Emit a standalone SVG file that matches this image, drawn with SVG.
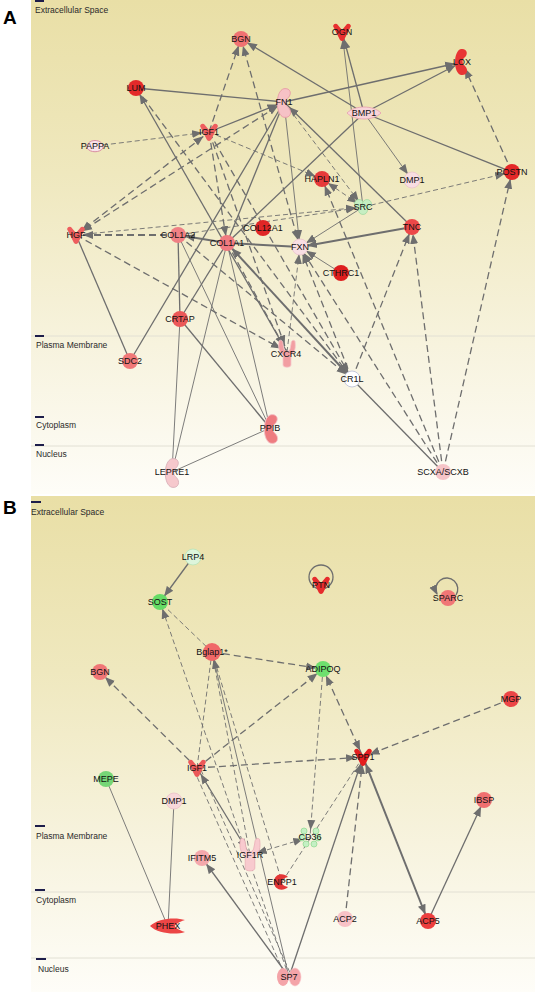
<svg xmlns="http://www.w3.org/2000/svg" xmlns:xlink="http://www.w3.org/1999/xlink" width="535" height="992" viewBox="0 0 535 992">
<style>
.e{stroke:#6e6e6e;stroke-width:1.3;fill:none}
.t{stroke-width:0.9}
.k{stroke-width:2}
.d{stroke-dasharray:7 4}
.dt{stroke-dasharray:5 3}
text{font-family:"Liberation Sans",Arial,sans-serif;font-size:9px;fill:#111;text-anchor:middle}
.cl{text-anchor:start;fill:#2a2a2a;font-size:8.5px}
.pl{font-size:19px;font-weight:bold;text-anchor:start;fill:#000}
.cm{stroke:#e2e0d4;stroke-width:1}
.dash{stroke:#1d1d4a;stroke-width:2}
</style>
<defs>
<linearGradient id="bgA" x1="0" y1="0" x2="0" y2="1">
<stop offset="0" stop-color="#E9DFA6"/>
<stop offset="0.35" stop-color="#EFE8BE"/>
<stop offset="0.7" stop-color="#F7F3DE"/>
<stop offset="1" stop-color="#FEFDF8"/>
</linearGradient>
<marker id="ar" viewBox="0 0 20 10" refX="17" refY="5" markerWidth="20" markerHeight="10" markerUnits="userSpaceOnUse" orient="auto-start-reverse"><path d="M0,1 L10,5 L0,9 z" fill="#6e6e6e"/></marker>
<marker id="ar0" viewBox="0 0 20 10" refX="9" refY="5" markerWidth="20" markerHeight="10" markerUnits="userSpaceOnUse" orient="auto"><path d="M0,1 L10,5 L0,9 z" fill="#6e6e6e"/></marker>
<path id="gf" d="M-9,-6 Q-8,-9 -5,-8 L0,-2 L5,-8 Q8,-9 9,-6 L2,8 Q0,10 -2,8 Z"/>
<path id="enz" d="M-1,-13 C5,-14 7,-8 2,-4 C0,-2 0,2 3,4 C7,8 5,14 -1,13 C-9,11 -9,-11 -1,-13 Z"/>
<path id="cres" d="M6,-5 C1,-10 -8,-8 -8,0 C-8,8 1,10 6,5 C1,4 0,2 0,0 C0,-2 1,-4 6,-5 Z"/>
<path id="pep" d="M-18,0 C-10,-8 8,-9 17,-6 C10,-4 7,-1 7,0 C7,1 10,4 17,6 C8,9 -10,8 -18,0 Z"/>
<path id="lens" d="M-17,0 C-9,-8 9,-8 17,0 C9,8 -9,8 -17,0 Z"/>
<path id="rec" d="M-8,-13 C-6,-15 -4,-13 -4,-10 L-3,-5 C-2,-2 2,-2 3,-5 L4,-10 C4,-13 6,-15 8,-13 C9,-6 8,-2 4,1 L4,11 C4,14 -4,14 -4,11 L-4,1 C-8,-2 -9,-6 -8,-13 Z"/>
</defs>

<!-- backgrounds -->
<rect x="0" y="0" width="535" height="992" fill="#ffffff"/>
<rect x="31" y="0" width="504" height="494" fill="url(#bgA)"/>
<rect x="31" y="496" width="504" height="496" fill="url(#bgA)"/>

<!-- compartments -->
<g id="compartments">
<line class="cm" x1="31" y1="336" x2="535" y2="336"/>
<line class="cm" x1="31" y1="446" x2="535" y2="446"/>
<line class="cm" x1="31" y1="892" x2="535" y2="892"/>
<line class="cm" x1="31" y1="958" x2="535" y2="958"/>
<line class="dash" x1="35" y1="1" x2="44" y2="1"/>
<line class="dash" x1="35" y1="336" x2="44" y2="336"/>
<line class="dash" x1="35" y1="417" x2="44" y2="417"/>
<line class="dash" x1="35" y1="445" x2="44" y2="445"/>
<line class="dash" x1="31" y1="502" x2="41" y2="502"/>
<line class="dash" x1="35" y1="826" x2="45" y2="826"/>
<line class="dash" x1="35" y1="890" x2="45" y2="890"/>
<line class="dash" x1="36" y1="959" x2="46" y2="959"/>
<text class="cl" x="35" y="13">Extracellular Space</text>
<text class="cl" x="36" y="348">Plasma Membrane</text>
<text class="cl" x="36" y="428">Cytoplasm</text>
<text class="cl" x="36" y="457">Nucleus</text>
<text class="cl" x="31" y="515">Extracellular Space</text>
<text class="cl" x="36" y="839">Plasma Membrane</text>
<text class="cl" x="36" y="903">Cytoplasm</text>
<text class="cl" x="38" y="972">Nucleus</text>
<text class="pl" x="3" y="24">A</text>
<text class="pl" x="3" y="514">B</text>
</g>

<!-- connectors -->
<g id="connectors">
<!-- panel A solid -->
<line class="e" x1="364" y1="113" x2="241" y2="39" marker-end="url(#ar)"/>
<line class="e" x1="364" y1="113" x2="342" y2="32" marker-end="url(#ar)"/>
<line class="e t" x1="363" y1="207" x2="342" y2="32" marker-end="url(#ar)"/>
<line class="e" x1="364" y1="113" x2="462" y2="62" marker-end="url(#ar)"/>
<line class="e" x1="284" y1="102" x2="462" y2="62" marker-end="url(#ar)"/>
<line class="e" x1="364" y1="113" x2="512" y2="172"/>
<line class="e t" x1="364" y1="113" x2="412" y2="180" marker-end="url(#ar)"/>
<line class="e" x1="364" y1="113" x2="227" y2="243"/>
<line class="e" x1="136" y1="88" x2="284" y2="102"/>
<line class="e" x1="209" y1="132" x2="284" y2="102" marker-end="url(#ar)"/>
<line class="e" x1="412" y1="227" x2="284" y2="102" marker-end="url(#ar)"/>
<line class="e t" x1="284" y1="102" x2="300" y2="247" marker-end="url(#ar)"/>
<line class="e k" x1="412" y1="227" x2="300" y2="247" marker-end="url(#ar)"/>
<line class="e t" x1="363" y1="207" x2="300" y2="247" marker-end="url(#ar)"/>
<line class="e k" x1="300" y1="247" x2="227" y2="243"/>
<line class="e k" x1="227" y1="243" x2="178" y2="235" marker-end="url(#ar)"/>
<line class="e t" x1="341" y1="273" x2="300" y2="247" marker-end="url(#ar)"/>
<line class="e" x1="76" y1="235" x2="130" y2="361"/>
<line class="e" x1="130" y1="361" x2="284" y2="102"/>
<line class="e" x1="180" y1="319" x2="227" y2="243"/>
<line class="e" x1="180" y1="319" x2="178" y2="235"/>
<line class="e t" x1="180" y1="319" x2="172" y2="472"/>
<line class="e" x1="180" y1="319" x2="270" y2="428"/>
<line class="e t" x1="227" y1="243" x2="172" y2="472"/>
<line class="e t" x1="227" y1="243" x2="270" y2="428"/>
<line class="e t" x1="178" y1="235" x2="270" y2="428"/>
<line class="e t" x1="270" y1="428" x2="172" y2="472"/>
<line class="e" x1="287" y1="352" x2="136" y2="88" marker-end="url(#ar)"/>
<line class="e k" x1="352" y1="379" x2="227" y2="243" marker-start="url(#ar)" marker-end="url(#ar)"/>
<line class="e" x1="352" y1="379" x2="443" y2="472"/>
<line class="e" x1="284" y1="102" x2="227" y2="243"/>
<!-- panel A dashed -->
<line class="e t dt" x1="95" y1="146" x2="209" y2="132" marker-end="url(#ar)"/>
<line class="e d" x1="209" y1="132" x2="241" y2="39" marker-end="url(#ar)"/>
<line class="e d" x1="300" y1="247" x2="241" y2="39" marker-start="url(#ar)" marker-end="url(#ar)"/>
<line class="e d" x1="76" y1="235" x2="209" y2="132" marker-start="url(#ar)" marker-end="url(#ar)"/>
<line class="e d" x1="76" y1="235" x2="284" y2="102" marker-start="url(#ar)" marker-end="url(#ar)"/>
<line class="e k d" x1="178" y1="235" x2="76" y2="235" marker-end="url(#ar)"/>
<line class="e t dt" x1="76" y1="235" x2="363" y2="207" marker-end="url(#ar)"/>
<line class="e d" x1="76" y1="235" x2="287" y2="352" marker-end="url(#ar)"/>
<line class="e d" x1="136" y1="88" x2="352" y2="379" marker-end="url(#ar)"/>
<line class="e d" x1="209" y1="132" x2="227" y2="243" marker-end="url(#ar)"/>
<line class="e d" x1="209" y1="132" x2="287" y2="352" marker-end="url(#ar)"/>
<line class="e d" x1="209" y1="132" x2="352" y2="379" marker-end="url(#ar)"/>
<line class="e t dt" x1="209" y1="132" x2="322" y2="179" marker-end="url(#ar)"/>
<line class="e t dt" x1="284" y1="102" x2="363" y2="207" marker-end="url(#ar)"/>
<line class="e t dt" x1="322" y1="179" x2="363" y2="207" marker-start="url(#ar)" marker-end="url(#ar)"/>
<line class="e t dt" x1="363" y1="207" x2="512" y2="172" marker-end="url(#ar)"/>
<line class="e t dt" x1="178" y1="235" x2="363" y2="207" marker-end="url(#ar)"/>
<line class="e d" x1="512" y1="172" x2="462" y2="62" marker-end="url(#ar)"/>
<line class="e d" x1="443" y1="472" x2="512" y2="172" marker-end="url(#ar)"/>
<line class="e d" x1="443" y1="472" x2="412" y2="227" marker-end="url(#ar)"/>
<line class="e d" x1="352" y1="379" x2="412" y2="227" marker-end="url(#ar)"/>
<line class="e d" x1="443" y1="472" x2="322" y2="179" marker-end="url(#ar)"/>
<line class="e d" x1="443" y1="472" x2="300" y2="247" marker-end="url(#ar)"/>
<line class="e d" x1="352" y1="379" x2="300" y2="247" marker-end="url(#ar)"/>
<line class="e t dt" x1="287" y1="352" x2="300" y2="247" marker-end="url(#ar)"/>
<line class="e d" x1="178" y1="235" x2="352" y2="379" marker-end="url(#ar)"/>
<line class="e d" x1="227" y1="243" x2="287" y2="352" marker-end="url(#ar)"/>

<!-- panel B -->
<line class="e" x1="193" y1="557" x2="160" y2="602" marker-end="url(#ar)"/>
<line class="e t dt" x1="212" y1="652" x2="160" y2="602"/>
<line class="e t dt" x1="289" y1="977" x2="160" y2="602" marker-end="url(#ar)"/>
<line class="e d" x1="212" y1="652" x2="323" y2="669" marker-end="url(#ar)"/>
<line class="e t" x1="289" y1="977" x2="212" y2="652" marker-end="url(#ar)"/>
<line class="e t dt" x1="212" y1="652" x2="250" y2="855"/>
<line class="e t dt" x1="212" y1="652" x2="282" y2="882"/>
<line class="e t dt" x1="197" y1="768" x2="212" y2="652"/>
<line class="e d" x1="197" y1="768" x2="100" y2="672" marker-end="url(#ar)"/>
<line class="e d" x1="197" y1="768" x2="323" y2="669" marker-end="url(#ar)"/>
<line class="e d" x1="197" y1="768" x2="363" y2="757" marker-end="url(#ar)"/>
<line class="e" x1="197" y1="768" x2="250" y2="855" marker-start="url(#ar)" marker-end="url(#ar)"/>
<line class="e t dt" x1="194" y1="770" x2="285" y2="975"/>
<line class="e t dt" x1="201" y1="770" x2="291" y2="975"/>
<line class="e d" x1="323" y1="669" x2="363" y2="757" marker-start="url(#ar)" marker-end="url(#ar)"/>
<line class="e t dt" x1="323" y1="669" x2="310" y2="837" marker-end="url(#ar)"/>
<line class="e d" x1="511" y1="699" x2="363" y2="757" marker-end="url(#ar)"/>
<line class="e t dt" x1="363" y1="757" x2="282" y2="882"/>
<line class="e t dt" x1="310" y1="837" x2="250" y2="855" marker-start="url(#ar)" marker-end="url(#ar)"/>
<line class="e" x1="289" y1="977" x2="363" y2="757" marker-end="url(#ar)"/>
<line class="e d" x1="345" y1="919" x2="363" y2="757" marker-end="url(#ar)"/>
<line class="e k" x1="428" y1="921" x2="363" y2="757" marker-start="url(#ar)" marker-end="url(#ar)"/>
<line class="e" x1="428" y1="921" x2="484" y2="800" marker-end="url(#ar)"/>
<line class="e" x1="289" y1="977" x2="202" y2="858" marker-end="url(#ar)"/>
<line class="e t" x1="106" y1="779" x2="168" y2="927"/>
<line class="e t" x1="174" y1="801" x2="168" y2="927"/>
<path class="e" d="M456,595 A11,11 0 1,0 437,594" marker-end="url(#ar0)"/>
<circle class="e" cx="321" cy="577" r="12"/>
</g>

<!-- panel A nodes -->
<g id="a-BGN"><circle cx="241" cy="39" r="8" fill="#F07272"/><text x="241" y="42">BGN</text></g>
<g id="a-OGN"><use xlink:href="#gf" transform="translate(342,32)" fill="#E83030"/><text x="342" y="35">OGN</text></g>
<g id="a-LOX"><use xlink:href="#enz" transform="translate(462,62)" fill="#E83434"/><text x="462" y="65">LOX</text></g>
<g id="a-LUM"><circle cx="136" cy="88" r="8" fill="#E42A2A"/><text x="136" y="91">LUM</text></g>
<g id="a-FN1"><use xlink:href="#enz" transform="translate(285,103) scale(1.1)" fill="#F6C2C6" stroke="#E79AA4" stroke-width="0.8"/><text x="284" y="105">FN1</text></g>
<g id="a-BMP1"><use xlink:href="#lens" transform="translate(364,113)" fill="#F8D4D9" stroke="#E8A4B0" stroke-width="0.9"/><text x="364" y="116">BMP1</text></g>
<g id="a-IGF1"><use xlink:href="#gf" transform="translate(209,132)" fill="#EE5E5E"/><text x="209" y="135">IGF1</text></g>
<g id="a-PAPPA"><path d="M87,148 C86,138 104,138 103,148 C100,153 90,153 87,148 Z" fill="#F9E2E8" stroke="#D98FA2" stroke-width="1"/><text x="95" y="149">PAPPA</text></g>
<g id="a-DMP1"><circle cx="412" cy="180" r="8" fill="#F8DDE2" stroke="#EBC4CC" stroke-width="0.8"/><text x="412" y="183">DMP1</text></g>
<g id="a-HAPLN1"><circle cx="322" cy="179" r="8" fill="#E63A3A"/><text x="322" y="182">HAPLN1</text></g>
<g id="a-POSTN"><circle cx="512" cy="172" r="8" fill="#E42828"/><text x="512" y="175">POSTN</text></g>
<g id="a-SRC"><g fill="#C6EEC2" stroke="#9ED89C" stroke-width="0.7"><circle cx="359" cy="204" r="4.5"/><circle cx="367" cy="204" r="4.5"/><circle cx="363" cy="210" r="4.5"/></g><text x="363" y="210">SRC</text></g>
<g id="a-HGF"><use xlink:href="#gf" transform="translate(76,235)" fill="#EE5E5E"/><text x="76" y="238">HGF</text></g>
<g id="a-COL1A2"><circle cx="178" cy="235" r="8" fill="#F08084"/><text x="178" y="238">COL1A2</text></g>
<g id="a-COL12A1"><circle cx="263" cy="228" r="8" fill="#E02626"/><text x="263" y="231">COL12A1</text></g>
<g id="a-COL1A1"><circle cx="227" cy="243" r="8" fill="#F07A80"/><text x="227" y="246">COL1A1</text></g>
<g id="a-TNC"><circle cx="412" cy="227" r="8" fill="#EC4848"/><text x="412" y="230">TNC</text></g>
<g id="a-FXN"><circle cx="300" cy="247" r="8" fill="#F8DEE3" stroke="#EBC4CC" stroke-width="0.8"/><text x="300" y="250">FXN</text></g>
<g id="a-CTHRC1"><circle cx="341" cy="273" r="8" fill="#DE1E1E"/><text x="341" y="276">CTHRC1</text></g>
<g id="a-CRTAP"><circle cx="180" cy="319" r="8" fill="#EC5858"/><text x="180" y="322">CRTAP</text></g>
<g id="a-SDC2"><circle cx="130" cy="361" r="8" fill="#F07878"/><text x="130" y="364">SDC2</text></g>
<g id="a-CXCR4"><use xlink:href="#rec" transform="translate(287,354)" fill="#F29EA2" stroke="#F6C8CC" stroke-width="0.8"/><text x="286" y="357">CXCR4</text></g>
<g id="a-CR1L"><circle cx="352" cy="379" r="8" fill="#FFFFFF" stroke="#C4C8DA" stroke-width="1"/><text x="352" y="382">CR1L</text></g>
<g id="a-PPIB"><use xlink:href="#enz" transform="translate(272,429) scale(1.1)" fill="#EE7C80" stroke="#F4C4C8" stroke-width="0.8"/><text x="270" y="431">PPIB</text></g>
<g id="a-LEPRE1"><use xlink:href="#enz" transform="translate(173,473) scale(1.1)" fill="#F6C8CC" stroke="#D8B0B8" stroke-width="0.8"/><text x="172" y="475">LEPRE1</text></g>
<g id="a-SCX"><circle cx="443" cy="472" r="8" fill="#F6C4C8"/><text x="443" y="475">SCXA/SCXB</text></g>

<!-- panel B nodes -->
<g id="b-LRP4"><circle cx="193" cy="557" r="8" fill="#DDF5DC" stroke="#B8E4B8" stroke-width="0.8"/><text x="193" y="560">LRP4</text></g>
<g id="b-SOST"><circle cx="160" cy="602" r="8" fill="#66DC66"/><text x="160" y="605">SOST</text></g>
<g id="b-Bglap1"><circle cx="212" cy="652" r="9" fill="#F06868"/><text x="212" y="655">Bglap1*</text></g>
<g id="b-BGN"><circle cx="100" cy="672" r="8" fill="#F07676"/><text x="100" y="675">BGN</text></g>
<g id="b-PTN"><use xlink:href="#gf" transform="translate(321,585)" fill="#E62C2C"/><text x="321" y="588">PTN</text></g>
<g id="b-SPARC"><circle cx="448" cy="598" r="8" fill="#F07676"/><text x="448" y="601">SPARC</text></g>
<g id="b-ADIPOQ"><circle cx="323" cy="669" r="8" fill="#6EE06E"/><text x="323" y="672">ADIPOQ</text></g>
<g id="b-MGP"><circle cx="511" cy="699" r="8" fill="#EC4646"/><text x="511" y="702">MGP</text></g>
<g id="b-IGF1"><use xlink:href="#gf" transform="translate(197,768)" fill="#EC5858"/><text x="197" y="771">IGF1</text></g>
<g id="b-MEPE"><circle cx="106" cy="779" r="8" fill="#76D676"/><text x="106" y="782">MEPE</text></g>
<g id="b-DMP1"><circle cx="174" cy="801" r="8" fill="#F8D8DA" stroke="#EBC2C8" stroke-width="0.8"/><text x="174" y="804">DMP1</text></g>
<g id="b-SPP1"><use xlink:href="#gf" transform="translate(363,757)" fill="#E41E1E"/><text x="363" y="760">SPP1</text></g>
<g id="b-IBSP"><circle cx="484" cy="800" r="8" fill="#F07070"/><text x="484" y="803">IBSP</text></g>
<g id="b-CD36"><g fill="#C4F0C4" stroke="#8ED88E" stroke-width="0.7"><circle cx="304" cy="831" r="3"/><circle cx="316" cy="831" r="3"/><circle cx="302" cy="838" r="3"/><circle cx="318" cy="838" r="3"/><circle cx="306" cy="844" r="3"/><circle cx="314" cy="844" r="3"/></g><text x="310" y="840">CD36</text></g>
<g id="b-IGF1R"><use xlink:href="#rec" transform="translate(250,855) scale(1.2)" fill="#F8CACE" stroke="#EAB0B8" stroke-width="0.7"/><text x="250" y="858">IGF1R</text></g>
<g id="b-IFITM5"><circle cx="202" cy="858" r="8" fill="#F4A8AC"/><text x="202" y="861">IFITM5</text></g>
<g id="b-ENPP1"><use xlink:href="#cres" transform="translate(282,882)" fill="#E43636"/><text x="282" y="885">ENPP1</text></g>
<g id="b-PHEX"><use xlink:href="#pep" transform="translate(168,926)" fill="#EC4646"/><text x="168" y="929">PHEX</text></g>
<g id="b-ACP2"><circle cx="345" cy="919" r="8" fill="#F8C2C6"/><text x="345" y="922">ACP2</text></g>
<g id="b-ACP5"><circle cx="428" cy="921" r="8" fill="#EC3E3E"/><text x="428" y="924">ACP5</text></g>
<g id="b-SP7"><ellipse cx="283" cy="977" rx="6" ry="9" fill="#F4A4A8"/><ellipse cx="295" cy="977" rx="6" ry="9" fill="#F4A4A8" stroke="#F8C8CC" stroke-width="0.6"/><text x="289" y="980">SP7</text></g>
</svg>
